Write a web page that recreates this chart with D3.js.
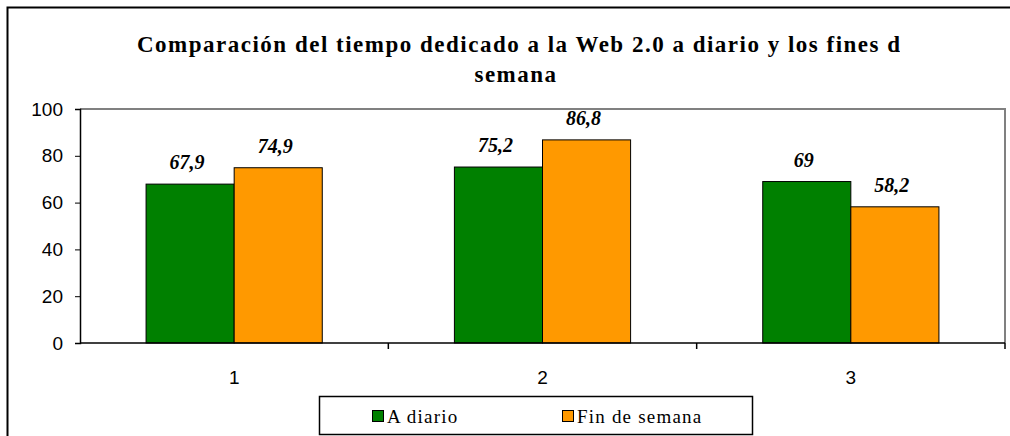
<!DOCTYPE html>
<html>
<head>
<meta charset="utf-8">
<script src="https://cdn.jsdelivr.net/npm/d3@7"></script>
<style>
  body { margin: 0; background: #fff; }
  svg { display: block; }
</style>
</head>
<body>
<svg id="chart" width="1010" height="436"></svg>
<script>
// data
var categories = ["1", "2", "3"];
var seriesNames = ["A diario", "Fin de semana"];
var aDiario = [67.9, 75.2, 69];
var finSemana = [74.9, 86.8, 58.2];
var yTicks = [0, 20, 40, 60, 80, 100];
var titleLines = ["Comparación del tiempo dedicado a la Web 2.0 a diario y los fines de", "semana"];

var colors = ["#008000", "#FF9900"];

var svg = d3.select("#chart");
var margin = {left: 80, top: 109, right: 1005, bottom: 343};

// outer frame (right and bottom run off the picture)
svg.append("path")
    .attr("d", "M7.5,440 V7.5 H1015")
    .attr("fill", "none")
    .attr("stroke", "#000")
    .attr("stroke-width", 2);

// title, first line cut off at the right like in the original
svg.append("clipPath").attr("id", "titleclip")
    .append("rect").attr("x", 0).attr("y", 0).attr("width", 900).attr("height", 100);

svg.append("g").attr("clip-path", "url(#titleclip)")
    .selectAll("text").data(titleLines).join("text")
    .attr("x", (d, i) => i == 0 ? 137 : 516)
    .attr("y", (d, i) => 52 + i * 30)
    .attr("text-anchor", (d, i) => i == 0 ? "start" : "middle")
    .style("font-family", "'Liberation Serif', 'Times New Roman', serif")
    .style("font-weight", "bold")
    .style("font-size", "23px")
    .style("letter-spacing", "1.5px")
    .text(d => d);

var x0 = d3.scaleBand().domain(categories).range([margin.left, margin.right]);
// gap width 150% -> two bars take 2/3.5 of the band
var x1 = d3.scaleBand().domain(seriesNames)
    .range([x0.bandwidth() * 0.75 / 3.5, x0.bandwidth() * 2.75 / 3.5]);
var y = d3.scaleLinear().domain([0, 100]).range([margin.bottom, margin.top]);

// plot area border (grey)
svg.append("path")
    .attr("d", "M" + margin.left + "," + margin.top + " H" + margin.right + " V" + margin.bottom)
    .attr("fill", "none")
    .attr("stroke", "#808080")
    .attr("stroke-width", 2);

var rows = categories.map((c, i) => ({cat: c, values: [aDiario[i], finSemana[i]]}));

var groups = svg.selectAll("g.cat").data(rows).join("g")
    .attr("class", "cat")
    .attr("transform", d => "translate(" + x0(d.cat) + ",0)");

groups.selectAll("rect").data(d => d.values.map((v, j) => ({name: seriesNames[j], v: v, j: j})))
    .join("rect")
    .attr("x", d => x1(d.name))
    .attr("y", d => y(d.v))
    .attr("width", x1.bandwidth())
    .attr("height", d => y(0) - y(d.v))
    .attr("fill", d => colors[d.j])
    .attr("stroke", "#000")
    .attr("stroke-width", 1);

groups.selectAll("text.val").data(d => d.values.map((v, j) => ({name: seriesNames[j], v: v})))
    .join("text")
    .attr("class", "val")
    .attr("x", d => x1(d.name) + x1.bandwidth() / 2 - 3)
    .attr("y", d => y(d.v) - 15)
    .attr("text-anchor", "middle")
    .style("font-family", "'Liberation Serif', 'Times New Roman', serif")
    .style("font-weight", "bold")
    .style("font-style", "italic")
    .style("font-size", "20px")
    .text(d => String(d.v).replace(".", ","));

// y axis
var yAxis = svg.append("g")
    .attr("transform", "translate(" + margin.left + ",0)")
    .call(d3.axisLeft(y).tickValues(yTicks).tickSize(5).tickPadding(12));
yAxis.select(".domain").attr("stroke", "#000").attr("stroke-width", 1.5);
yAxis.selectAll("text")
    .style("font-family", "'Liberation Sans', Arial, sans-serif")
    .style("font-size", "19px")
    .attr("fill", "#000");

// x axis: ticks sit between the categories
var xAxis = svg.append("g")
    .attr("transform", "translate(0," + margin.bottom + ")");
xAxis.append("line")
    .attr("x1", margin.left).attr("x2", margin.right)
    .attr("stroke", "#000").attr("stroke-width", 1.5);
xAxis.selectAll("line.tick")
    .data(categories.map(c => x0(c) + x0.bandwidth()))
    .join("line")
    .attr("class", "tick")
    .attr("x1", d => d).attr("x2", d => d)
    .attr("y1", 0).attr("y2", 6)
    .attr("stroke", "#000").attr("stroke-width", 1.5);
xAxis.selectAll("text").data(categories).join("text")
    .attr("x", d => x0(d) + x0.bandwidth() / 2)
    .attr("y", 41)
    .attr("text-anchor", "middle")
    .style("font-family", "'Liberation Sans', Arial, sans-serif")
    .style("font-size", "19px")
    .text(d => d);

// legend
var legend = svg.append("g");
legend.append("rect")
    .attr("x", 319.5).attr("y", 396.5)
    .attr("width", 433).attr("height", 38)
    .attr("fill", "#fff")
    .attr("stroke", "#000")
    .attr("stroke-width", 1.5);
var legX = [372, 562];
var items = legend.selectAll("g.item").data(seriesNames).join("g")
    .attr("class", "item")
    .attr("transform", (d, i) => "translate(" + legX[i] + ",0)");
items.append("rect")
    .attr("x", 0.5).attr("y", 410.5)
    .attr("width", 11).attr("height", 11)
    .attr("fill", (d, i) => colors[i])
    .attr("stroke", "#000");
items.append("text")
    .attr("x", 15)
    .attr("y", 423)
    .style("font-family", "'Liberation Serif', 'Times New Roman', serif")
    .style("font-size", "19px")
    .style("letter-spacing", "1.2px")
    .text(d => d);
</script>
</body>
</html>
